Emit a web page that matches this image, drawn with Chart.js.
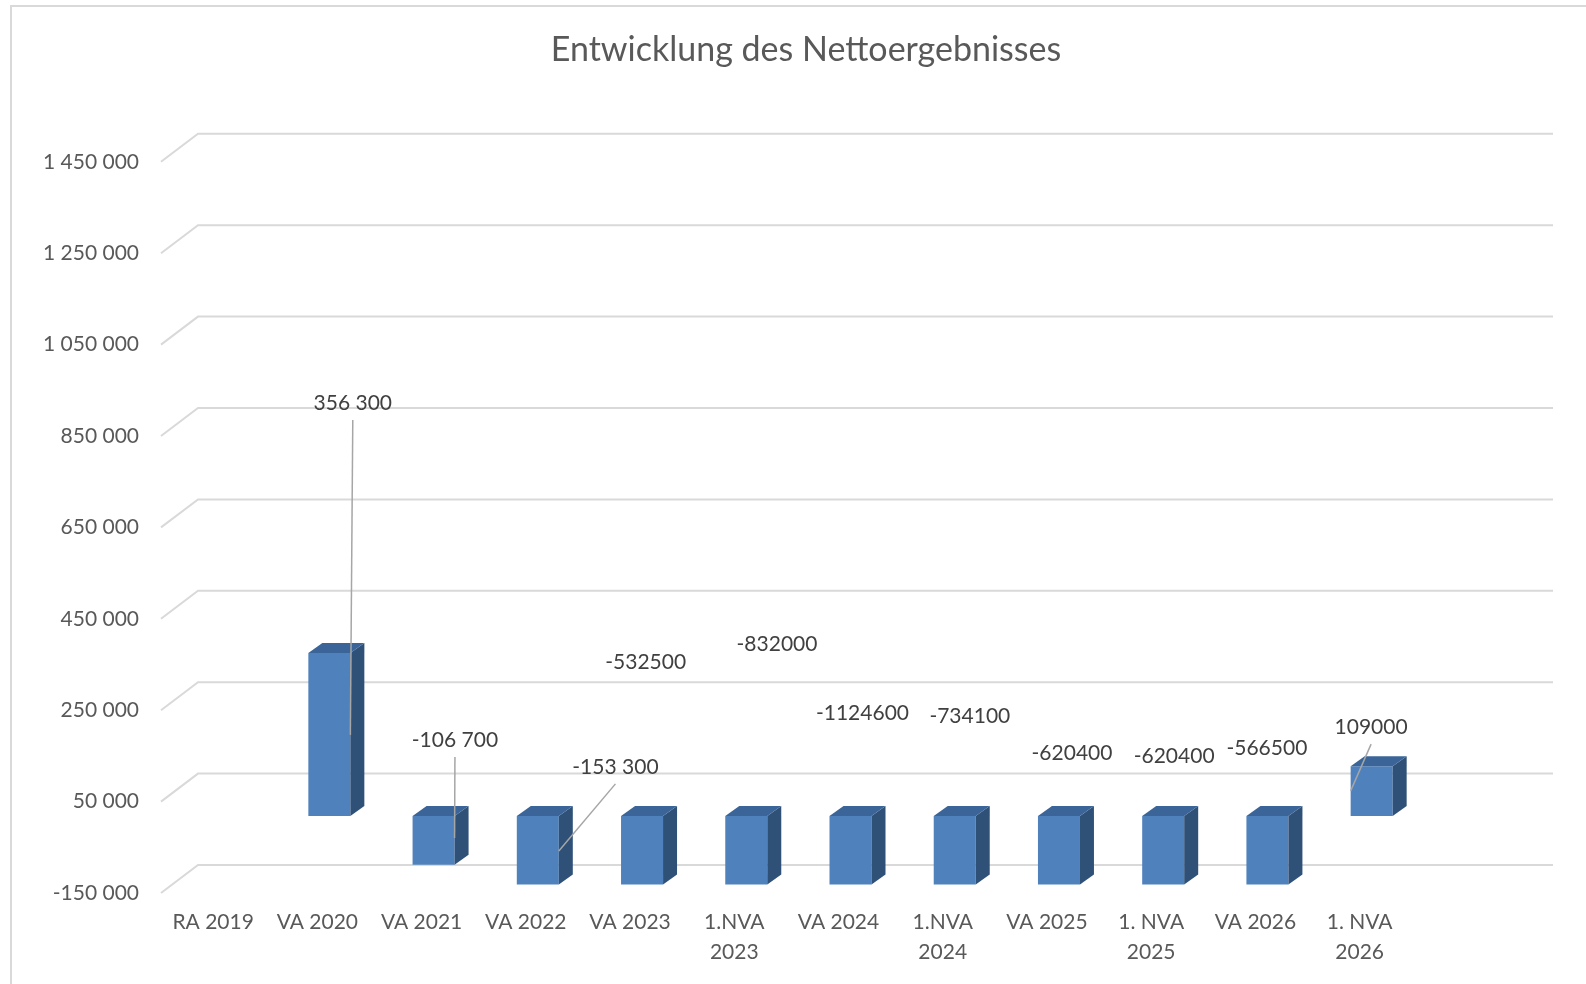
<!DOCTYPE html>
<html lang="de">
<head>
    <meta charset="UTF-8">
    <title>Entwicklung des Nettoergebnisses</title>
    <script src="https://cdn.jsdelivr.net/npm/chart.js"></script>
    <style>
        body { margin: 0; background: #fff; }
        .wrap { position: fixed; left: 0; top: 0; width: 1586px; height: 984px; overflow: hidden; }
        .frame { position: absolute; left: 10px; top: 5px; right: -10px; bottom: -10px;
                 border-left: 2px solid #d9d9d9; border-top: 2px solid #d9d9d9; }
        canvas { position: absolute; left: 0; top: 0; }
    </style>
</head>
<body>
    <div class="wrap">
        <div class="frame"></div>
        <canvas id="nettoChart" width="1586" height="984"></canvas>
    </div>
    <script>
        // Daten aus dem Diagramm
        const categories = ['RA 2019', 'VA 2020', 'VA 2021', 'VA 2022', 'VA 2023', ['1.NVA', '2023'],
            'VA 2024', ['1.NVA', '2024'], 'VA 2025', ['1. NVA', '2025'], 'VA 2026', ['1. NVA', '2026'], ''];
        const netResult = [null, 356300, -106700, -153300, -532500, -832000, -1124600, -734100,
            -620400, -620400, -566500, 109000, null];
        // Beschriftung mit Tausendertrennzeichen?
        const grouped = [false, true, true, true, false, false, false, false, false, false, false, false, false];
        // Lage der Beschriftungen (Achsenwert, Versatz in Kategoriebreiten)
        const labelAt = [null, 922000, 185000, 126000, 356000, 395000, 244000, 237000, 156500, 150000, 167500, 213000, null];
        const labelShift = [0, 0.34, 0.32, 0.86, 0.15, 0.41, 0.23, 0.26, 0.24, 0.22, 0.11, 0.11, 0];
        // Führungslinien: Endpunkt am Balken (Achsenwert, Kante)
        const leaderTo = [null, 196000, -29500, -58000, null, null, null, null, null, null, null, 73500, null];
        const leaderEdge = [null, 'right', 'right', 'right', null, null, null, null, null, null, null, 'left', null];

        const yMin = -150000, yMax = 1450000, yStep = 200000;

        const FONT = 'Lato, "Open Sans", sans-serif';
        const depth = { dx: 37, dy: -28 };      // Wand / Rückwand
        const barShift = { dx: 12, dy: -8.5 };  // Balken in mittlerer Tiefe
        const barDepth = { dx: 14, dy: -10 };

        function fmt(v, group) {
            const s = String(Math.abs(v));
            const t = group ? s.replace(/\B(?=(\d{3})+(?!\d))/g, ' ') : s;
            return (v < 0 ? '-' : '') + t;
        }

        const pseudo3d = {
            id: 'pseudo3d',
            beforeDatasetsDraw(chart) {
                const { ctx, chartArea: a, scales: { y } } = chart;
                ctx.save();
                ctx.strokeStyle = '#d9d9d9';
                ctx.lineWidth = 2;
                y.ticks.forEach(t => {
                    const py = y.getPixelForValue(t.value);
                    ctx.beginPath();
                    ctx.moveTo(a.left, py);
                    ctx.lineTo(a.left + depth.dx, py + depth.dy);
                    ctx.lineTo(a.right + depth.dx, py + depth.dy);
                    ctx.stroke();
                });
                ctx.restore();
                ctx.save();
                ctx.translate(barShift.dx, barShift.dy);
            },
            afterDatasetsDraw(chart) {
                const { ctx, chartArea: a } = chart;
                const meta = chart.getDatasetMeta(0);
                meta.data.forEach((el, i) => {
                    if (netResult[i] == null) return;
                    const xl = el.x - el.width / 2, xr = el.x + el.width / 2;
                    const top = Math.max(Math.min(el.y, el.base), a.top);
                    const bot = Math.min(Math.max(el.y, el.base), a.bottom);
                    // Seitenfläche
                    ctx.fillStyle = '#2f5178';
                    ctx.beginPath();
                    ctx.moveTo(xr, top);
                    ctx.lineTo(xr + barDepth.dx, top + barDepth.dy);
                    ctx.lineTo(xr + barDepth.dx, bot + barDepth.dy);
                    ctx.lineTo(xr, bot);
                    ctx.closePath();
                    ctx.fill();
                    // Deckfläche
                    ctx.fillStyle = '#3b6598';
                    ctx.beginPath();
                    ctx.moveTo(xl, top);
                    ctx.lineTo(xl + barDepth.dx, top + barDepth.dy);
                    ctx.lineTo(xr + barDepth.dx, top + barDepth.dy);
                    ctx.lineTo(xr, top);
                    ctx.closePath();
                    ctx.fill();
                });
                ctx.restore();
            },
            afterDraw(chart) {
                const { ctx, scales: { x, y } } = chart;
                const meta = chart.getDatasetMeta(0);
                const cw = x.getPixelForValue(1) - x.getPixelForValue(0);
                ctx.save();
                ctx.font = '21px ' + FONT;
                ctx.textAlign = 'center';
                ctx.textBaseline = 'middle';
                netResult.forEach((v, i) => {
                    if (v == null) return;
                    const lx = x.getPixelForValue(i) + labelShift[i] * cw;
                    const ly = y.getPixelForValue(labelAt[i]);
                    if (leaderTo[i] != null) {
                        const el = meta.data[i];
                        const ex = el.x + barShift.dx + (leaderEdge[i] === 'right' ? 1 : -1) * el.width / 2;
                        const ey = y.getPixelForValue(leaderTo[i]);
                        ctx.strokeStyle = '#a6a6a6';
                        ctx.lineWidth = 1.5;
                        ctx.beginPath();
                        ctx.moveTo(lx, ly + 17);
                        ctx.lineTo(ex, ey);
                        ctx.stroke();
                    }
                    ctx.fillStyle = '#404040';
                    ctx.fillText(fmt(v, grouped[i]), lx, ly);
                });
                ctx.restore();
            }
        };

        const ctx = document.getElementById('nettoChart').getContext('2d');
        new Chart(ctx, {
            type: 'bar',
            data: {
                labels: categories,
                datasets: [{
                    label: 'Nettoergebnis',
                    data: netResult,
                    backgroundColor: '#4f81bd',
                    barPercentage: 0.403,
                    categoryPercentage: 1
                }]
            },
            options: {
                responsive: false,
                animation: false,
                layout: { padding: { left: 26, right: 0, top: 0, bottom: 0 } },
                scales: {
                    x: {
                        grid: { display: false, drawTicks: false },
                        border: { display: false },
                        ticks: { color: '#595959', font: { family: FONT, size: 21, lineHeight: 1.4 }, padding: 15, maxRotation: 0, autoSkip: false },
                        afterFit(s) { s.height = 91; }
                    },
                    y: {
                        min: yMin, max: yMax,
                        grid: { display: false, drawTicks: false },
                        border: { display: false },
                        ticks: {
                            stepSize: yStep,
                            color: '#595959',
                            font: { family: FONT, size: 21 },
                            padding: 22,
                            callback: v => fmt(v, true)
                        },
                        afterFit(s) { s.width = 135; }
                    },
                    // leerer Rand rechts für die Rückwand
                    yRight: {
                        position: 'right',
                        display: true,
                        grid: { display: false, drawTicks: false },
                        border: { display: false },
                        ticks: { display: false },
                        afterFit(s) { s.width = 70; }
                    }
                },
                plugins: {
                    legend: { display: false },
                    tooltip: { enabled: false },
                    title: {
                        display: true,
                        text: 'Entwicklung des Nettoergebnisses',
                        color: '#595959',
                        font: { family: FONT, size: 34, weight: 'normal' },
                        padding: { top: 30, bottom: 91 }
                    }
                }
            },
            plugins: [pseudo3d]
        });
    </script>
</body>
</html>
